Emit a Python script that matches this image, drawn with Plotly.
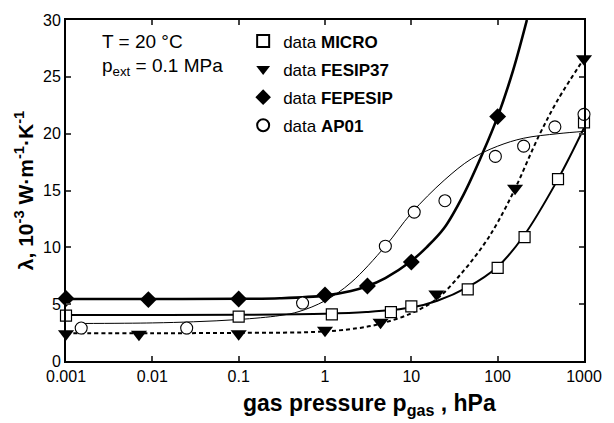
import plotly.graph_objects as go

# ---- measured data points ----
micro_x = [0.001, 0.1, 1.2, 5.8, 10, 45, 100, 205, 500, 1000]
micro_y = [4.0, 3.9, 4.1, 4.3, 4.8, 6.3, 8.2, 10.9, 16.0, 21.0]

fesip_x = [0.001, 0.007, 0.1, 1.0, 4.4, 19.5, 159, 1000]
fesip_y = [2.4, 2.35, 2.4, 2.7, 3.4, 5.9, 15.2, 26.6]

fepesip_x = [0.001, 0.009, 0.1, 1.0, 3.1, 10, 100]
fepesip_y = [5.5, 5.4, 5.45, 5.8, 6.6, 8.7, 21.5]

ap01_x = [0.0015, 0.025, 0.55, 5, 10.8, 24.5, 94, 200, 460, 1000]
ap01_y = [2.9, 2.9, 5.1, 10.1, 13.1, 14.1, 18.0, 18.9, 20.6, 21.7]

# ---- fitted curves ----
micro_fit_x = [0.001, 0.01, 0.1, 1, 3, 10, 20, 45, 100, 200, 500, 1000]
micro_fit_y = [4.05, 4.05, 4.07, 4.15, 4.3, 4.7, 5.3, 6.5, 8.3, 11.0, 16.0, 20.5]

fesip_fit_x = [0.001, 0.01, 0.1, 1, 3, 5, 10, 20, 40, 70, 100, 160, 300, 500, 1000]
fesip_fit_y = [2.45, 2.45, 2.47, 2.6, 3.0, 3.4, 4.2, 5.5, 7.9, 10.3, 12.2, 15.2, 19.8, 23.0, 26.6]

fepesip_fit_x = [0.001, 0.01, 0.1, 0.3, 1, 2, 3, 5, 10, 15, 24, 40, 68, 100, 150, 218]
fepesip_fit_y = [5.45, 5.45, 5.47, 5.52, 5.75, 6.15, 6.55, 7.3, 8.8, 10.0, 11.7, 14.6, 18.4, 21.5, 25.5, 30]

ap01_fit_x = [0.0015, 0.01, 0.03, 0.1, 0.3, 0.5, 1, 2, 5, 10, 24, 50, 100, 200, 500, 1000]
ap01_fit_y = [3.3, 3.35, 3.45, 3.65, 4.0, 4.35, 5.3, 6.9, 10.1, 13.0, 15.9, 17.8, 18.9, 19.6, 20.0, 20.2]

x_tickvals = [0.001, 0.01, 0.1, 1, 10, 100, 1000]
x_ticktext = ["0.001", "0.01", "0.1", "1", "10", "100", "1000"]
y_tickvals = [0, 5, 10, 15, 20, 25, 30]

FONT = "Liberation Sans, Arial, Helvetica, sans-serif"

fig = go.Figure()

# curves
fig.add_trace(go.Scatter(x=micro_fit_x, y=micro_fit_y, mode="lines", line=dict(color="black", width=2, shape="spline"), showlegend=False))
fig.add_trace(go.Scatter(x=fesip_fit_x, y=fesip_fit_y, mode="lines", line=dict(color="black", width=2, dash="4px,3px", shape="spline"), showlegend=False))
fig.add_trace(go.Scatter(x=fepesip_fit_x, y=fepesip_fit_y, mode="lines", line=dict(color="black", width=2.6, shape="spline"), showlegend=False))
fig.add_trace(go.Scatter(x=ap01_fit_x, y=ap01_fit_y, mode="lines", line=dict(color="black", width=1, shape="spline"), showlegend=False))

# markers
fig.add_trace(go.Scatter(x=micro_x, y=micro_y, mode="markers", name="data <b>MICRO</b>", legendgroup="a",
                         marker=dict(symbol="square", size=11, color="white", line=dict(color="black", width=1.2)), cliponaxis=False))
fig.add_trace(go.Scatter(x=fesip_x, y=fesip_y, mode="markers", name="data <b>FESIP37</b>", legendgroup="b",
                         marker=dict(symbol="triangle-down", size=14, color="black", line=dict(width=0)), cliponaxis=False))
fig.add_trace(go.Scatter(x=fepesip_x, y=fepesip_y, mode="markers", name="data <b>FEPESIP</b>", legendgroup="c",
                         marker=dict(symbol="diamond", size=13, color="black", line=dict(width=0)), cliponaxis=False))
fig.add_trace(go.Scatter(x=ap01_x, y=ap01_y, mode="markers", name="data <b>AP01</b>", legendgroup="d",
                         marker=dict(symbol="circle", size=12, color="white", line=dict(color="black", width=1.1)), cliponaxis=False))

fig.update_layout(
    width=614, height=423,
    margin=dict(l=66, r=22, t=13, b=62),
    paper_bgcolor="white", plot_bgcolor="white",
    font=dict(family=FONT, size=16, color="black"),
    showlegend=True,
    legend=dict(x=0.342, y=0.99, xanchor="left", yanchor="top", bgcolor="rgba(0,0,0,0)",
                font=dict(size=17), tracegroupgap=3, traceorder="grouped", itemsizing="constant"),
    xaxis=dict(type="log", range=[-3, 3], tickvals=x_tickvals, ticktext=x_ticktext,
               ticks="inside", ticklen=5, tickwidth=1.5, showline=True, linewidth=2, linecolor="black",
               mirror="ticks", showgrid=False, zeroline=False, tickfont=dict(size=16)),
    yaxis=dict(range=[0, 30], tickvals=y_tickvals, ticks="inside", ticklen=5, tickwidth=1.5,
               showline=True, linewidth=2, linecolor="black", mirror="ticks", showgrid=False, zeroline=False,
               tickfont=dict(size=16),
               title=dict(text="<b>λ, 10<sup>-3</sup> W·m<sup>-1</sup>·K<sup>-1</sup></b>", font=dict(size=21), standoff=4)),
    annotations=[
        dict(text="T = 20 °C", xref="paper", yref="paper", x=0.066, y=0.937, xanchor="left", yanchor="middle",
             showarrow=False, font=dict(size=19)),
        dict(text="p<sub>ext</sub> = 0.1 MPa", xref="paper", yref="paper", x=0.066, y=0.861, xanchor="left", yanchor="middle",
             showarrow=False, font=dict(size=19)),
        dict(text="<b>gas pressure p<sub>gas</sub> , hPa</b>", xref="paper", yref="paper", x=0.586, y=-0.128,
             xanchor="center", yanchor="middle", showarrow=False, font=dict(size=23)),
    ],
)

fig.write_html("out.html")
